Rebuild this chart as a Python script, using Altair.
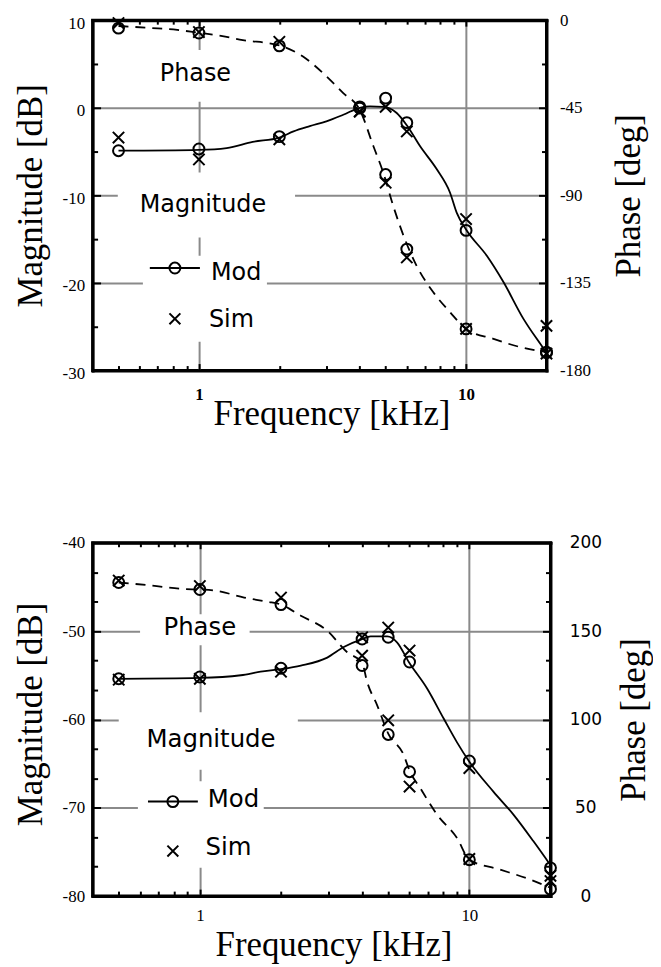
import altair as alt
import pandas as pd

# ---------------- data ----------------
FREQ = [0.5, 1, 2, 4, 5, 6, 10, 20]

# top panel
TOP_MOD_MAG = [-4.9, -4.7, -3.3, 0.1, 1.1, -1.7, -14.0, -27.9]
TOP_SIM_MAG = [-3.4, -5.9, -3.6, -0.4, 0.1, -2.7, -12.7, -24.9]
TOP_MOD_PH = [-4.1, -6.6, -13.2, -45.2, -79.3, -117.6, -158.6, -170.8]
TOP_SIM_PH = [-1.5, -6.1, -11.1, -47.0, -83.5, -121.9, -158.6, -171.3]

TOP_MAG_CURVE_F = [0.5, 1.0, 1.27, 1.59, 2.0, 2.26, 2.6, 3.0, 3.47, 4.0, 4.37, 4.9, 5.5,
                   6.0, 6.73, 7.76, 8.71, 9.23, 10.0, 11.96, 13.8, 16.4, 19.5, 20.0]
TOP_MAG_CURVE_V = [-4.9, -4.8, -4.6, -3.9, -3.4, -2.7, -2.1, -1.55, -0.8, 0.0, 0.15, 0.1, -0.6,
                   -2.0, -4.4, -7.0, -9.7, -12.0, -13.9, -16.9, -19.9, -24.1, -27.5, -28.0]
TOP_PH_CURVE_F = [0.5, 0.66, 0.83, 1.0, 1.17, 1.46, 2.0, 2.46, 2.92, 3.47, 4.0, 4.5, 4.9,
                  5.34, 5.9, 6.53, 7.54, 8.71, 10.0, 12.65, 15.9, 20.0]
TOP_PH_CURVE_V = [-3.0, -4.0, -5.0, -6.5, -7.7, -10.2, -13.0, -18.8, -27.3, -37.5, -46.0, -64.8,
                  -78.4, -95.5, -112.5, -126.2, -139.8, -150.0, -158.6, -163.7, -167.9, -170.5]

# bottom panel
BOT_MOD_MAG = [-55.4, -55.2, -54.2, -50.9, -50.7, -53.5, -64.7, -76.8]
BOT_SIM_MAG = [-55.5, -55.4, -54.6, -50.7, -49.6, -52.2, -65.5, -77.7]
BOT_MOD_PH = [177.5, 173.5, 165.0, 130.5, 91.5, 70.4, 20.6, 3.9]
BOT_SIM_PH = [178.6, 175.5, 169.0, 136.1, 99.5, 62.0, 21.0, 8.5]

BOT_MAG_CURVE_F = [0.5, 1.0, 1.42, 1.68, 2.0, 2.37, 2.97, 3.42, 4.0, 4.3, 4.96, 5.4, 5.96,
                   6.97, 8.03, 9.0, 10.0, 12.3, 14.6, 17.3, 20.0]
BOT_MAG_CURVE_V = [-55.4, -55.3, -55.0, -54.6, -54.3, -53.9, -53.0, -51.8, -50.9, -50.6, -50.6,
                   -51.3, -53.5, -56.5, -59.9, -62.6, -64.8, -68.2, -70.8, -73.8, -76.5]
BOT_PH_CURVE_F = [0.5, 0.66, 0.87, 1.0, 1.13, 1.46, 1.78, 2.0, 2.37, 2.97, 3.52, 4.0, 4.18,
                  4.55, 5.0, 5.71, 6.0, 6.58, 7.6, 9.0, 10.0, 13.0, 16.8, 20.0]
BOT_PH_CURVE_V = [177.5, 175.8, 173.8, 173.5, 173.0, 169.0, 166.6, 165.0, 158.7, 150.2, 138.0,
                  132.0, 121.0, 108.0, 92.0, 79.8, 71.0, 61.0, 46.0, 32.9, 20.6, 15.0, 9.4, 4.7]

# axis tick values / labels
X_DOMAIN = [0.4, 20]
X_LABELS = [1, 10]
X_MINOR = [0.5, 0.6, 0.7, 0.8, 0.9, 2, 3, 4, 5, 6, 7, 8, 9]
X_MAJOR = [1, 10]

TOP_MAG_LABELS = [-30, -20, -10, 0, 10]
TOP_PH_LABELS = [-180, -135, -90, -45, 0]
TOP_MAG_MAJOR = [-20, -10, 0]
TOP_MAG_MINOR = [-25, -15, -5, 5]
TOP_PH_MAJOR = [-135, -90, -45]
TOP_PH_MINOR = [-157.5, -112.5, -67.5, -22.5]

BOT_MAG_LABELS = [-80, -70, -60, -50, -40]
BOT_PH_LABELS = [0, 50, 100, 150, 200]
BOT_MAG_MAJOR = [-70, -60, -50]
BOT_MAG_MINOR = [-76.67, -73.33, -66.67, -63.33, -56.67, -53.33, -46.67, -43.33]
BOT_PH_MAJOR = [50, 100, 150]
BOT_PH_MINOR = [16.67, 33.33, 66.67, 83.33, 116.67, 133.33, 166.67, 183.33]

# ---------------- styling ----------------
GRID = '#8a8a8a'
SERIF = 'Liberation Serif'
SANS = 'DejaVu Sans'
XPATH = 'M-1,-1L1,1M-1,1L1,-1'
XS = alt.Scale(type='log', domain=X_DOMAIN, nice=False)
DUMMY = pd.DataFrame({'d': [0]})


def tick_axis(values, orient, offset, size, domain):
    """Inward-pointing tick marks (and frame side) drawn by an axis moved onto the opposite edge."""
    kw = dict(values=values, orient=orient, offset=offset, ticks=True, tickSize=size,
              tickWidth=2, tickColor='black', labels=False, grid=False, title=None,
              domain=domain, zindex=0)
    if domain:
        kw.update(domainColor='black', domainWidth=3, domainCap='square')
    return alt.Axis(**kw)


def grid_axis(values, orient):
    return alt.Axis(values=values, orient=orient, grid=True, gridColor=GRID, gridWidth=2,
                    ticks=False, labels=False, domain=False, title=None, zindex=0)


def make_panel(W, H, mag_dom, ph_dom, mod_mag, sim_mag, mod_ph, sim_ph,
               magc_f, magc_v, phc_f, phc_v,
               mag_labels, ph_labels, mag_major, mag_minor, ph_major, ph_minor,
               opts):
    YM = alt.Scale(domain=mag_dom, nice=False, zero=False)
    YP = alt.Scale(domain=ph_dom, nice=False, zero=False)

    def XD(v, axis=None):
        return alt.XDatum(v, type='quantitative', scale=XS, axis=axis)

    def YD(v, axis=None):
        return alt.YDatum(v, type='quantitative', scale=YM, axis=axis)

    xaxis = alt.Axis(values=X_LABELS, format='d', grid=False, orient='bottom',
                     ticks=False, domain=False, zindex=0,
                     labelFont=SERIF, labelFontSize=17, labelColor='black',
                     labelFontWeight=opts['x_weight'], labelBaseline='alphabetic',
                     labelPadding=opts['x_label_pad'], labelFlush=False,
                     title='Frequency [kHz]', titleFont=SERIF, titleFontSize=35,
                     titleFontWeight='normal', titleColor='black',
                     titleX=W / 2 + 12, titleY=opts['x_title_y'],
                     titleAlign='center', titleBaseline='alphabetic')
    laxis = alt.Axis(values=mag_labels, grid=False, orient='left',
                     ticks=False, domain=False, zindex=0,
                     labelExpr='datum.value',
                     labelFont=SERIF, labelFontSize=17, labelColor='black',
                     labelPadding=8, labelOffset=opts['left_label_offset'],
                     title='Magnitude [dB]', titleFont=SERIF, titleFontSize=35,
                     titleFontWeight='normal', titleColor='black',
                     titleX=-51, titleY=opts['left_title_y'], titleAngle=270,
                     titleAlign='center', titleBaseline='alphabetic')
    raxis = alt.Axis(values=ph_labels, orient='right', grid=False,
                     ticks=False, domain=False, zindex=0,
                     labelExpr='datum.value',
                     labelFont=opts['r_font'], labelFontSize=17, labelColor='black',
                     labelAlign=opts['r_align'], labelPadding=opts['r_pad'],
                     title='Phase [deg]', titleFont=SERIF, titleFontSize=35,
                     titleFontWeight='normal', titleColor='black',
                     titleX=opts['r_title_x'], titleY=H / 2, titleAngle=270,
                     titleAlign='center', titleBaseline='alphabetic')

    mag_curve = pd.DataFrame({'f': magc_f, 'm': magc_v})
    ph_curve = pd.DataFrame({'f': phc_f, 'p': phc_v})
    pts = pd.DataFrame({'f': FREQ, 'mod_m': mod_mag, 'sim_m': sim_mag,
                        'mod_p': mod_ph, 'sim_p': sim_ph})

    # white boxes behind the annotation texts (the first one also carries the grid axes)
    boxes = []
    for i, b in enumerate(opts['boxes']):
        xa = grid_axis(X_MAJOR, 'bottom') if i == 0 else None
        ya = grid_axis(mag_major, 'left') if i == 0 else None
        boxes.append(alt.Chart(DUMMY).mark_rect(color='white').encode(
            x=XD(b[0], xa), x2=alt.X2Datum(b[1]), y=YD(b[2], ya), y2=alt.Y2Datum(b[3])))

    mag_line = alt.Chart(mag_curve).mark_line(
        color='black', strokeWidth=1.8, interpolate='monotone').encode(
        x=alt.X('f:Q', scale=XS, axis=xaxis),
        y=alt.Y('m:Q', scale=YM, axis=laxis))
    ph_line = alt.Chart(ph_curve).mark_line(
        color='black', strokeWidth=1.8, strokeDash=[10, 7], interpolate='monotone').encode(
        x=alt.X('f:Q', scale=XS, axis=tick_axis(X_MAJOR, 'bottom', -H, 6, True)),
        y=alt.Y('p:Q', scale=YP, axis=raxis))

    def pt(field, scale, shape, size, xa, ya):
        return alt.Chart(pts).mark_point(
            shape=shape, size=size, filled=False, color='black', strokeWidth=2, opacity=1).encode(
            x=alt.X('f:Q', scale=XS, axis=xa),
            y=alt.Y(f'{field}:Q', scale=scale, axis=ya))

    markers = [
        pt('mod_m', YM, 'circle', 120,
           tick_axis(X_MINOR, 'bottom', -H, 4, False), tick_axis(mag_major, 'right', -W, 8, True)),
        pt('sim_m', YM, XPATH, 130,
           tick_axis(X_MAJOR, 'top', -H, 7, True), tick_axis(mag_minor, 'right', -W, 5, False)),
        pt('mod_p', YP, 'circle', 120,
           tick_axis(X_MINOR, 'top', -H, 5, False), tick_axis(ph_major, 'left', -W, 8, True)),
        pt('sim_p', YP, XPATH, 130,
           None, tick_axis(ph_minor, 'left', -W, 5, False)),
    ]

    texts = [
        alt.Chart(DUMMY).mark_text(text=t[0], font=SANS, fontSize=t[4], color='black',
                                   align=t[3], baseline='alphabetic').encode(
            x=XD(t[1]), y=YD(t[2]))
        for t in opts['texts']
    ]
    lg = opts['legend']
    leg_line = alt.Chart(DUMMY).mark_rule(color='black', strokeWidth=2).encode(
        x=XD(lg['line'][0]), x2=alt.X2Datum(lg['line'][1]), y=YD(lg['mod_y']))
    leg_circ = alt.Chart(DUMMY).mark_point(
        shape='circle', size=120, filled=False, color='black', strokeWidth=2, opacity=1).encode(
        x=XD(lg['sym_x']), y=YD(lg['mod_y']))
    leg_x = alt.Chart(DUMMY).mark_point(
        shape=XPATH, size=120, filled=False, color='black', strokeWidth=2, opacity=1).encode(
        x=XD(lg['sym_x']), y=YD(lg['sim_y']))

    return alt.layer(*boxes, mag_line, ph_line, *markers,
                     *texts, leg_line, leg_circ, leg_x).resolve_scale(
        x='independent', y='independent').properties(width=W, height=H)


top_opts = dict(
    x_weight='bold', x_label_pad=29, x_title_y=54, left_label_offset=3, left_title_y=176,
    r_font=SERIF, r_align='left', r_pad=13, r_title_x=93,
    boxes=[(0.655, 1.487, 6.6, 0.7), (0.497, 2.29, -7.4, -14.8), (0.617, 1.797, -16.9, -26.7)],
    texts=[('Phase', 0.97, 3.07, 'center', 24), ('Magnitude', 1.035, -11.93, 'center', 24),
           ('Mod', 1.109, -19.66, 'left', 24), ('Sim', 1.09, -25.0, 'left', 24)],
    legend=dict(line=(0.655, 1.0086), sym_x=0.813, mod_y=-18.3, sim_y=-24.1),
)
bot_opts = dict(
    x_weight='normal', x_label_pad=25, x_title_y=60, left_label_offset=0, left_title_y=172,
    r_font=SANS, r_align='center', r_pad=35, r_title_x=94,
    boxes=[(0.60, 1.53, -48.1, -51.6), (0.50, 2.31, -59.2, -65.7), (0.589, 1.726, -67.0, -76.8)],
    texts=[('Phase', 1.0, -50.48, 'center', 24.5), ('Magnitude', 1.1, -63.1, 'center', 24.5),
           ('Mod', 1.07, -69.9, 'left', 24.5), ('Sim', 1.05, -75.4, 'left', 24.5)],
    legend=dict(line=(0.642, 0.983), sym_x=0.794, mod_y=-69.3, sim_y=-74.9),
)

top = make_panel(456, 352, [-30, 10], [-180, 0], TOP_MOD_MAG, TOP_SIM_MAG, TOP_MOD_PH, TOP_SIM_PH,
                 TOP_MAG_CURVE_F, TOP_MAG_CURVE_V, TOP_PH_CURVE_F, TOP_PH_CURVE_V,
                 TOP_MAG_LABELS, TOP_PH_LABELS, TOP_MAG_MAJOR, TOP_MAG_MINOR,
                 TOP_PH_MAJOR, TOP_PH_MINOR, top_opts)
bottom = make_panel(460, 355, [-80, -40], [0, 200], BOT_MOD_MAG, BOT_SIM_MAG, BOT_MOD_PH, BOT_SIM_PH,
                    BOT_MAG_CURVE_F, BOT_MAG_CURVE_V, BOT_PH_CURVE_F, BOT_PH_CURVE_V,
                    BOT_MAG_LABELS, BOT_PH_LABELS, BOT_MAG_MAJOR, BOT_MAG_MINOR,
                    BOT_PH_MAJOR, BOT_PH_MINOR, bot_opts)

chart = alt.vconcat(top, bottom, spacing=99).properties(
    padding={'left': 4, 'top': -1, 'right': 0, 'bottom': 0},
    background='white',
).configure_view(stroke='black', strokeWidth=3)

chart.save('out.html', embed_options={'renderer': 'svg', 'actions': False})
